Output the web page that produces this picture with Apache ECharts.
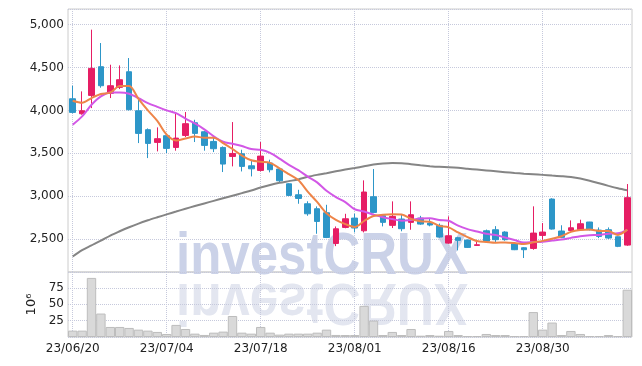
<!DOCTYPE html>
<html><head><meta charset="utf-8">
<script src="https://cdn.jsdelivr.net/npm/echarts@6/dist/echarts.min.js"></script>
<style>html,body{margin:0;padding:0;background:#fff}#c{width:642px;height:366px}</style>
</head><body><div id="c"></div>
<script>
const dates = ['23/06/20','23/06/21','23/06/22','23/06/23','23/06/26','23/06/27','23/06/28','23/06/29','23/06/30','23/07/03','23/07/04','23/07/05','23/07/06','23/07/07','23/07/10','23/07/11','23/07/12','23/07/13','23/07/14','23/07/17','23/07/18','23/07/19','23/07/20','23/07/21','23/07/24','23/07/25','23/07/26','23/07/27','23/07/28','23/07/31','23/08/01','23/08/02','23/08/03','23/08/04','23/08/07','23/08/08','23/08/09','23/08/10','23/08/11','23/08/14','23/08/16','23/08/17','23/08/18','23/08/21','23/08/22','23/08/23','23/08/24','23/08/25','23/08/28','23/08/29','23/08/30','23/08/31','23/09/01','23/09/04','23/09/05','23/09/06','23/09/07','23/09/08','23/09/11','23/09/12'];
const opens  = [4136,3961,4175,4510,4199,4269,4451,3996,3775,3627,3705,3568,3708,3856,3751,3638,3568,3463,3494,3354,3300,3386,3316,3144,3016,2911,2853,2806,2448,2635,2744,2596,2993,2772,2659,2733,2694,2744,2686,2659,2452,2515,2487,2425,2596,2608,2581,2445,2398,2390,2542,2966,2593,2600,2608,2698,2604,2608,2526,2429];
const closes = [3977,3996,4490,4288,4288,4358,4008,3732,3615,3670,3557,3677,3845,3732,3592,3553,3374,3498,3347,3319,3467,3308,3179,3008,2973,2794,2705,2518,2619,2736,2628,3048,2810,2694,2764,2620,2783,2674,2663,2523,2538,2484,2402,2433,2475,2492,2492,2375,2375,2569,2581,2616,2519,2631,2678,2608,2530,2511,2414,2982];
const lows   = [3965,3950,4027,4265,4144,4249,4000,3619,3444,3522,3502,3530,3690,3631,3530,3514,3281,3347,3288,3230,3288,3277,3160,3000,2911,2771,2561,2510,2417,2625,2577,2577,2800,2647,2628,2590,2608,2665,2648,2515,2445,2367,2395,2420,2460,2455,2480,2370,2278,2375,2492,2610,2510,2595,2600,2600,2510,2500,2405,2420];
const highs  = [4288,4222,4942,4786,4533,4525,4611,4125,3790,3802,3720,3969,3981,3891,3760,3680,3580,3864,3541,3425,3631,3425,3330,3150,3074,2940,2880,2899,2646,2794,2795,3184,3316,2780,2939,2780,2939,2770,2740,2680,2764,2525,2495,2480,2610,2650,2590,2450,2405,2881,2686,2975,2660,2717,2725,2700,2635,2635,2530,3141];
const volumes = [9.7,9.7,90,35.7,15.3,15.3,13.8,11.2,9.7,7.7,4.6,18.4,12.2,5.1,3.1,6.6,8.2,32,6.6,5.1,15.3,6.6,3.6,5.1,5.1,5.1,6.6,11.2,3.1,3,3,47.4,25,3,7.7,3,12.2,2,3,2,9.2,3,1.5,1.5,4.6,3,3,1.5,1.5,38,11.2,22,3,9.2,4.6,1.5,1.5,3,1.5,72];
// moving-average values before enough history is visible
const ma5Head  = [4113,4090,4144,4191];
const ma10Head = [3833,3930,4066,4164,4210,4210,4195,4144,4086];
const ma60 = [2296,2370,2425,2480,2540,2590,2637,2680,2718,2753,2787,2820,2853,2885,2915,2945,2975,3005,3035,3065,3100,3130,3155,3175,3195,3225,3248,3268,3290,3310,3328,3348,3368,3380,3386,3385,3372,3360,3350,3342,3337,3330,3320,3310,3300,3290,3280,3270,3262,3255,3248,3240,3232,3222,3205,3180,3150,3120,3092,3068];

function movingAvg(n, head){
  return closes.map((c,i)=>{
    if(i < n-1) return head[i];
    let s=0; for(let k=i-n+1;k<=i;k++) s+=closes[k];
    return Math.round(s/n);
  });
}
const ma5 = movingAvg(5, ma5Head);
const ma10 = movingAvg(10, ma10Head);
const ohlc = opens.map((o,i)=>[o, closes[i], lows[i], highs[i]]);

const FONT = 'DejaVu Sans';
const gridLine = {show:true, interval:9, alignWithLabel:true, lineStyle:{color:'#c6c9dc', type:'dotted', width:1}};
const ySplit = {show:true, lineStyle:{color:'#c6c9dc', type:'dotted', width:1}};

const chart = echarts.init(document.getElementById('c'), null, {renderer:'canvas'});
chart.setOption({
  animation:false,
  backgroundColor:'#fff',
  graphic:[
    {type:'text', z:0, zlevel:0, silent:true, x:176, y:257, scaleX:0.85, originX:0, originY:21,
     style:{text:'investCRUX', font:'bold 60px "Liberation Sans"', fill:'#cbd2e8', verticalAlign:'middle'}},
    {type:'text', z:0, zlevel:0, silent:true, x:176, y:259, scaleX:0.85, scaleY:-1, originX:0, originY:21,
     style:{text:'investCRUX', font:'bold 60px "Liberation Sans"', fill:'#e3e6f0', verticalAlign:'middle'}}
  ],
  grid:[
    {left:68, right:10, top:9, height:263, show:true, borderColor:'#cccccc', borderWidth:1, backgroundColor:'transparent'},
    {left:68, right:10, top:272, height:65, show:true, borderColor:'#cccccc', borderWidth:1, backgroundColor:'transparent'}
  ],
  xAxis:[
    {type:'category', gridIndex:0, data:dates, boundaryGap:true,
     axisLine:{show:false}, axisTick:{show:false}, axisLabel:{show:false}, splitLine:gridLine},
    {type:'category', gridIndex:1, data:dates, boundaryGap:true,
     axisLine:{show:false}, axisTick:{show:false, alignWithLabel:true},
     axisLabel:{show:true, interval:9, margin:6, color:'#222', fontFamily:FONT, fontSize:12}, splitLine:gridLine}
  ],
  yAxis:[
    {type:'value', gridIndex:0, min:2115, max:5183, scale:true,
     axisLine:{show:false}, axisTick:{show:false},
     axisLabel:{margin:4, color:'#222', fontFamily:FONT, fontSize:12, showMinLabel:false, showMaxLabel:false,
       formatter:v=>v.toLocaleString('en-US')},
     splitLine:ySplit},
    {type:'value', gridIndex:1, min:0, max:99, interval:25,
     name:'10⁶', nameLocation:'middle', nameGap:30, nameRotate:90,
     nameTextStyle:{color:'#222', fontFamily:FONT, fontSize:13},
     axisLine:{show:false}, axisTick:{show:false},
     axisLabel:{margin:4, color:'#222', fontFamily:FONT, fontSize:12, showMinLabel:false, showMaxLabel:false},
     splitLine:ySplit}
  ],
  series:[
    {type:'bar', xAxisIndex:1, yAxisIndex:1, data:volumes, barCategoryGap:'0%', z:3,
     itemStyle:{color:'#d9d9d9', borderColor:'#bdbdbd', borderWidth:1}},
    {type:'candlestick', xAxisIndex:0, yAxisIndex:0, data:ohlc, barWidth:6, z:3,
     itemStyle:{color:'#e61e64', color0:'#2d96c8', borderColor:'#e61e64', borderColor0:'#2d96c8', borderWidth:1}},
    {type:'line', xAxisIndex:0, yAxisIndex:0, data:ma60, smooth:0.3, symbol:'none', z:4,
     lineStyle:{color:'#858585', width:2}},
    {type:'line', xAxisIndex:0, yAxisIndex:0, data:ma10, smooth:0.3, symbol:'none', z:4,
     lineStyle:{color:'#d257e6', width:2}},
    {type:'line', xAxisIndex:0, yAxisIndex:0, data:ma5, smooth:0.3, symbol:'none', z:5,
     lineStyle:{color:'#ee8448', width:2}}
  ]
});
</script></body></html>
